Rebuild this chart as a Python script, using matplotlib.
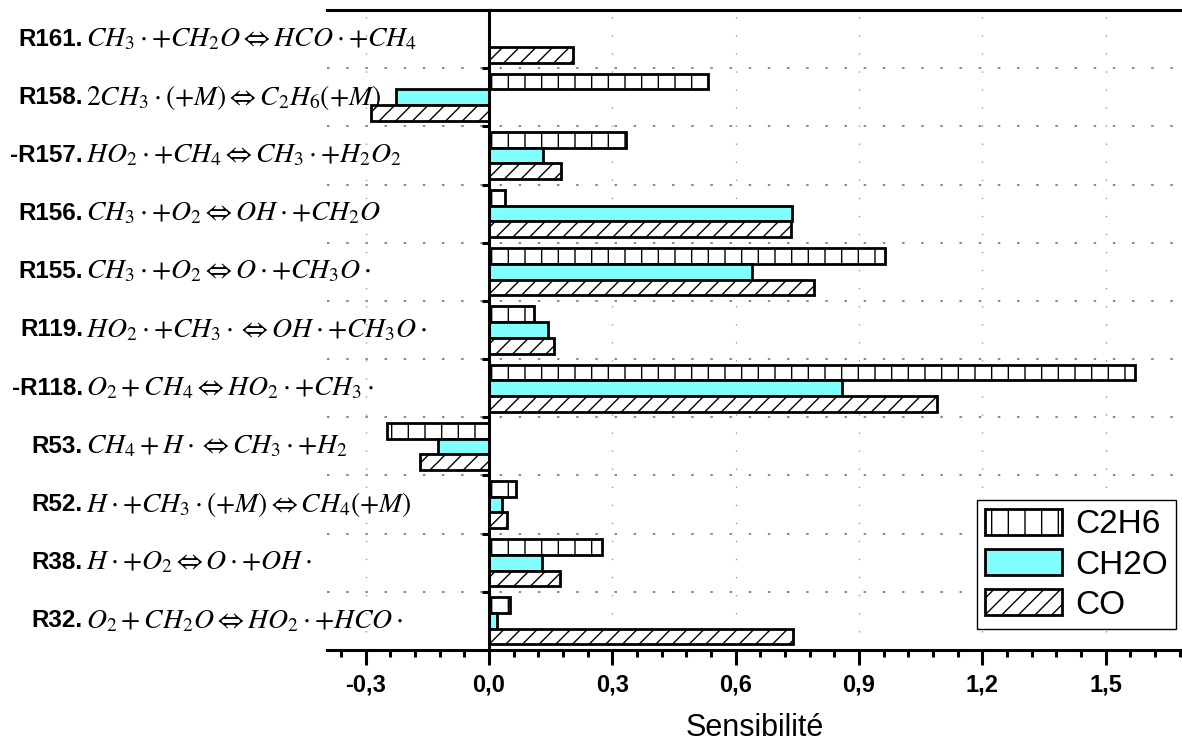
import matplotlib
matplotlib.use("Agg")
import matplotlib.pyplot as plt
import numpy as np
from matplotlib.transforms import blended_transform_factory
from matplotlib.ticker import MultipleLocator

# Données
reactions = ['R161.', 'R158.', '-R157.', 'R156.', 'R155.', 'R119.',
             '-R118.', 'R53.', 'R52.', 'R38.', 'R32.']
equations = [
    r'$CH_3\cdot{+}CH_2O \Leftrightarrow HCO\cdot{+}CH_4$',
    r'$2CH_3\cdot(+M) \Leftrightarrow C_2H_6(+M)$',
    r'$HO_2\cdot{+}CH_4 \Leftrightarrow CH_3\cdot{+}H_2O_2$',
    r'$CH_3\cdot{+}O_2 \Leftrightarrow OH\cdot{+}CH_2O$',
    r'$CH_3\cdot{+}O_2 \Leftrightarrow O\cdot{+}CH_3O\cdot$',
    r'$HO_2\cdot{+}CH_3\cdot \Leftrightarrow OH\cdot{+}CH_3O\cdot$',
    r'$O_2+CH_4 \Leftrightarrow HO_2\cdot{+}CH_3\cdot$',
    r'$CH_4+H\cdot \Leftrightarrow CH_3\cdot{+}H_2$',
    r'$H\cdot{+}CH_3\cdot(+M) \Leftrightarrow CH_4(+M)$',
    r'$H\cdot{+}O_2 \Leftrightarrow O\cdot{+}OH\cdot$',
    r'$O_2+CH_2O \Leftrightarrow HO_2\cdot{+}HCO\cdot$',
]
c2h6 = [0.0, 0.532, 0.333, 0.039, 0.963, 0.110, 1.571, -0.247, 0.067, 0.274, 0.051]
ch2o = [0.0, -0.226, 0.132, 0.738, 0.641, 0.143, 0.860, -0.123, 0.032, 0.130, 0.020]
co = [0.204, -0.288, 0.175, 0.736, 0.790, 0.158, 1.089, -0.168, 0.043, 0.173, 0.739]
xticks = [-0.3, 0.0, 0.3, 0.6, 0.9, 1.2, 1.5]

plt.rcParams['font.family'] = ['Liberation Sans', 'DejaVu Sans']
plt.rcParams['mathtext.fontset'] = 'stix'
plt.rcParams['hatch.linewidth'] = 1.0

fig = plt.figure(figsize=(11.82, 7.42), dpi=100)
ax = fig.add_axes([327 / 1182, 92 / 742, 1 - 327 / 1182, 640 / 742])

n = len(reactions)
y = np.arange(n)[::-1]
h = 0.27

ax.barh(y + h, c2h6, height=h, color='white', edgecolor='black',
        linewidth=2, hatch='|', label='C2H6', zorder=3)
ax.barh(y, ch2o, height=h, color='#80ffff', edgecolor='black',
        linewidth=2, label='CH2O', zorder=3)
ax.barh(y - h, co, height=h, color='white', edgecolor='black',
        linewidth=2, hatch='//', label='CO', zorder=3)

ax.set_xlim(-0.394, 1.686)
ax.set_ylim(-0.5, n - 0.5)

# Axes : ligne verticale en 0, pas d'axe à gauche/droite
ax.spines['left'].set_position(('data', 0))
ax.spines['left'].set_linewidth(2.2)
ax.spines['left'].set_zorder(4)
ax.spines['right'].set_visible(False)
ax.spines['top'].set_linewidth(2.2)
ax.spines['bottom'].set_linewidth(2.2)

ax.set_yticks(np.arange(n - 1) + 0.5)
ax.set_yticklabels([])
ax.tick_params(axis='y', direction='out', length=5, width=2.2)

ax.set_xticks(xticks)
ax.set_xticklabels([f'{v:.1f}'.replace('.', ',') for v in xticks],
                   fontsize=17, fontweight='bold')
ax.xaxis.set_minor_locator(MultipleLocator(0.06))
ax.tick_params(axis='x', which='major', direction='out', length=11, width=2.2, pad=6)
ax.tick_params(axis='x', which='minor', direction='out', length=5, width=2.2)

# Grilles pointillées
for v in xticks:
    ax.axvline(v, color='#999999', linestyle=(0, (1, 12)), linewidth=1, zorder=1)
for b in np.arange(n - 1) + 0.5:
    ax.axhline(b, color='#777777', linestyle=(0, (1.5, 10)), linewidth=1.2, zorder=1)

ax.set_xlabel('Sensibilité', fontsize=22, labelpad=12)

# Libellés des réactions
tr = blended_transform_factory(fig.transFigure, ax.transData)
for yi, r, eq in zip(y, reactions, equations):
    ax.text(83 / 1182, yi, r, transform=tr, ha='right', va='center',
            fontsize=17.5, fontweight='bold', clip_on=False)
    ax.text(86 / 1182, yi, eq, transform=tr, ha='left', va='center',
            fontsize=20, clip_on=False)

leg = ax.legend(loc='lower right', bbox_to_anchor=(1176 / 1182, 113 / 742),
                bbox_transform=fig.transFigure, fontsize=24, fancybox=False,
                edgecolor='black', framealpha=1, handlelength=2.3,
                handleheight=0.85, labelspacing=0.25, borderpad=0.25,
                handletextpad=0.4, borderaxespad=0)
leg.get_frame().set_linewidth(1)

fig.savefig('out.png', dpi=100)
